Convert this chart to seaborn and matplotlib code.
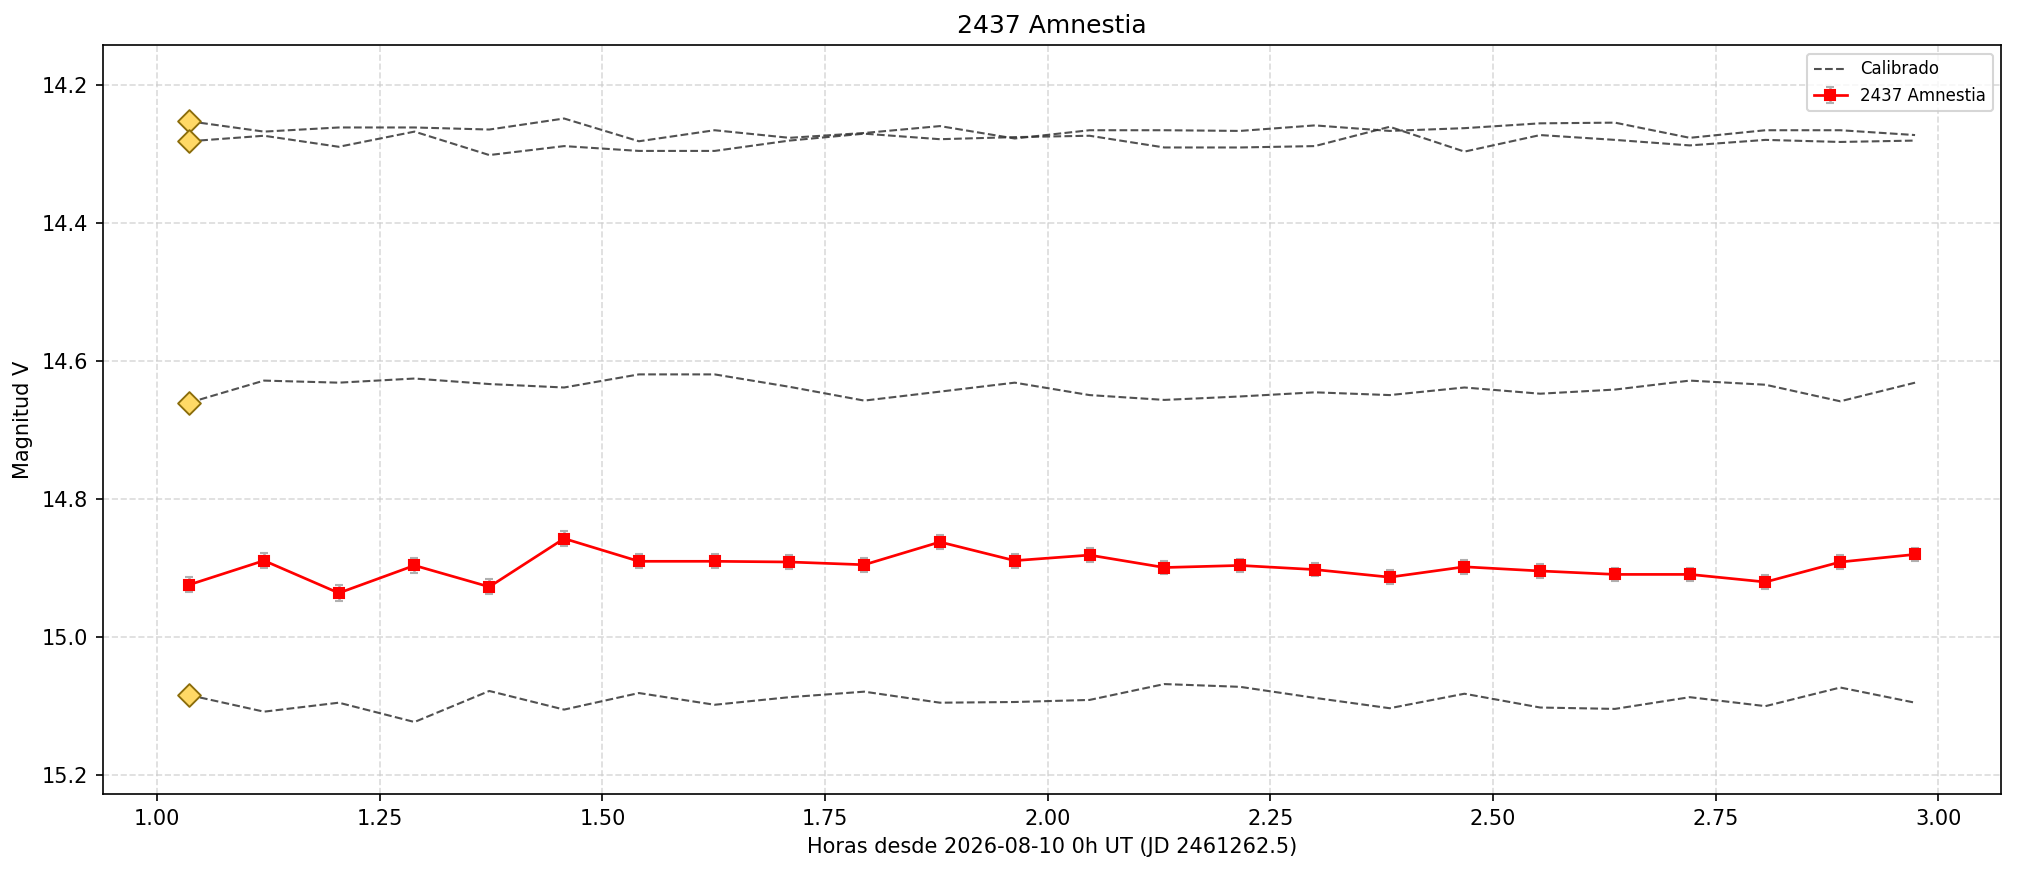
import numpy as np
import pandas as pd
import seaborn as sns
import matplotlib
matplotlib.use("Agg")
import matplotlib.pyplot as plt

# horas desde 2026-08-10 0h UT
horas = [1.036, 1.120, 1.204, 1.289, 1.373, 1.457, 1.541, 1.626, 1.710, 1.794, 1.879, 1.963,
		 2.047, 2.131, 2.216, 2.300, 2.384, 2.468, 2.553, 2.637, 2.721, 2.806, 2.890, 2.974]

# estrellas de comparacion calibradas
comp_1 = [14.252, 14.267, 14.261, 14.261, 14.264, 14.248, 14.281, 14.265, 14.276, 14.269, 14.259, 14.277,
		  14.265, 14.265, 14.266, 14.258, 14.266, 14.262, 14.255, 14.254, 14.276, 14.265, 14.265, 14.272]
comp_2 = [14.281, 14.273, 14.289, 14.267, 14.301, 14.288, 14.295, 14.295, 14.280, 14.270, 14.278, 14.275,
		  14.273, 14.290, 14.290, 14.288, 14.260, 14.296, 14.272, 14.279, 14.287, 14.279, 14.282, 14.280]
comp_3 = [14.660, 14.628, 14.631, 14.625, 14.633, 14.638, 14.619, 14.619, 14.637, 14.657, 14.644, 14.631,
		  14.649, 14.656, 14.651, 14.645, 14.649, 14.638, 14.647, 14.641, 14.628, 14.634, 14.658, 14.631]
comp_4 = [15.084, 15.108, 15.095, 15.123, 15.078, 15.105, 15.081, 15.098, 15.087, 15.079, 15.095, 15.094,
		  15.091, 15.068, 15.072, 15.088, 15.103, 15.082, 15.102, 15.104, 15.087, 15.100, 15.073, 15.095]

# asteroide
mag_obj = [14.924, 14.889, 14.936, 14.896, 14.927, 14.857, 14.890, 14.890, 14.891, 14.895, 14.862, 14.889,
		   14.881, 14.899, 14.896, 14.902, 14.913, 14.898, 14.904, 14.909, 14.909, 14.920, 14.891, 14.880]
err_obj = [0.011, 0.011, 0.011, 0.011, 0.011, 0.011, 0.010, 0.010, 0.010, 0.010, 0.010, 0.010,
		   0.010, 0.010, 0.010, 0.010, 0.010, 0.010, 0.010, 0.010, 0.010, 0.010, 0.010, 0.010]

objeto = "2437 Amnestia"


rows = []
for name, serie in [("c1", comp_1), ("c2", comp_2), ("c3", comp_3), ("c4", comp_4)]:
	for h, m in zip(horas, serie):
		rows.append({"estrella": name, "hora": h, "mag": m})
df_comp = pd.DataFrame(rows)

fig, ax = plt.subplots(figsize=(13.45, 5.82), dpi=150)

sns.lineplot(data=df_comp, x="hora", y="mag", units="estrella", estimator=None,
			 color="#333333", alpha=0.85, linewidth=1.0, linestyle="--", ax=ax, legend=False)

# marca de la primera medida de cada comparacion
df_first = df_comp[df_comp["hora"] == horas[0]]
sns.scatterplot(data=df_first, x="hora", y="mag", marker="D", s=60, color="#ffd966",
				edgecolor="#8b6d0b", linewidth=0.9, ax=ax, legend=False, zorder=5)

ax.errorbar(horas, mag_obj, yerr=err_obj, fmt="-s", color="red", markersize=5,
			linewidth=1.3, ecolor="#b0b0b0", elinewidth=1.2, capsize=2, label=objeto, zorder=4)

ax.plot([], [], linestyle="--", color="#333333", alpha=0.85, linewidth=1.0, label="Calibrado")

handles, labels = ax.get_legend_handles_labels()
order = [labels.index("Calibrado"), labels.index(objeto)]
ax.legend([handles[i] for i in order], [labels[i] for i in order], loc="upper right", fontsize=8)

ax.set_ylim(15.228, 14.142)
ax.grid(True, linestyle="--", color="#cccccc", alpha=0.7)
ax.set_xlabel("Horas desde 2026-08-10 0h UT (JD 2461262.5)")
ax.set_ylabel("Magnitud V")
ax.set_title(objeto, fontsize=12)

fig.subplots_adjust(left=0.051, right=0.992, top=0.948, bottom=0.090)
plt.savefig("out.png", dpi=150)
